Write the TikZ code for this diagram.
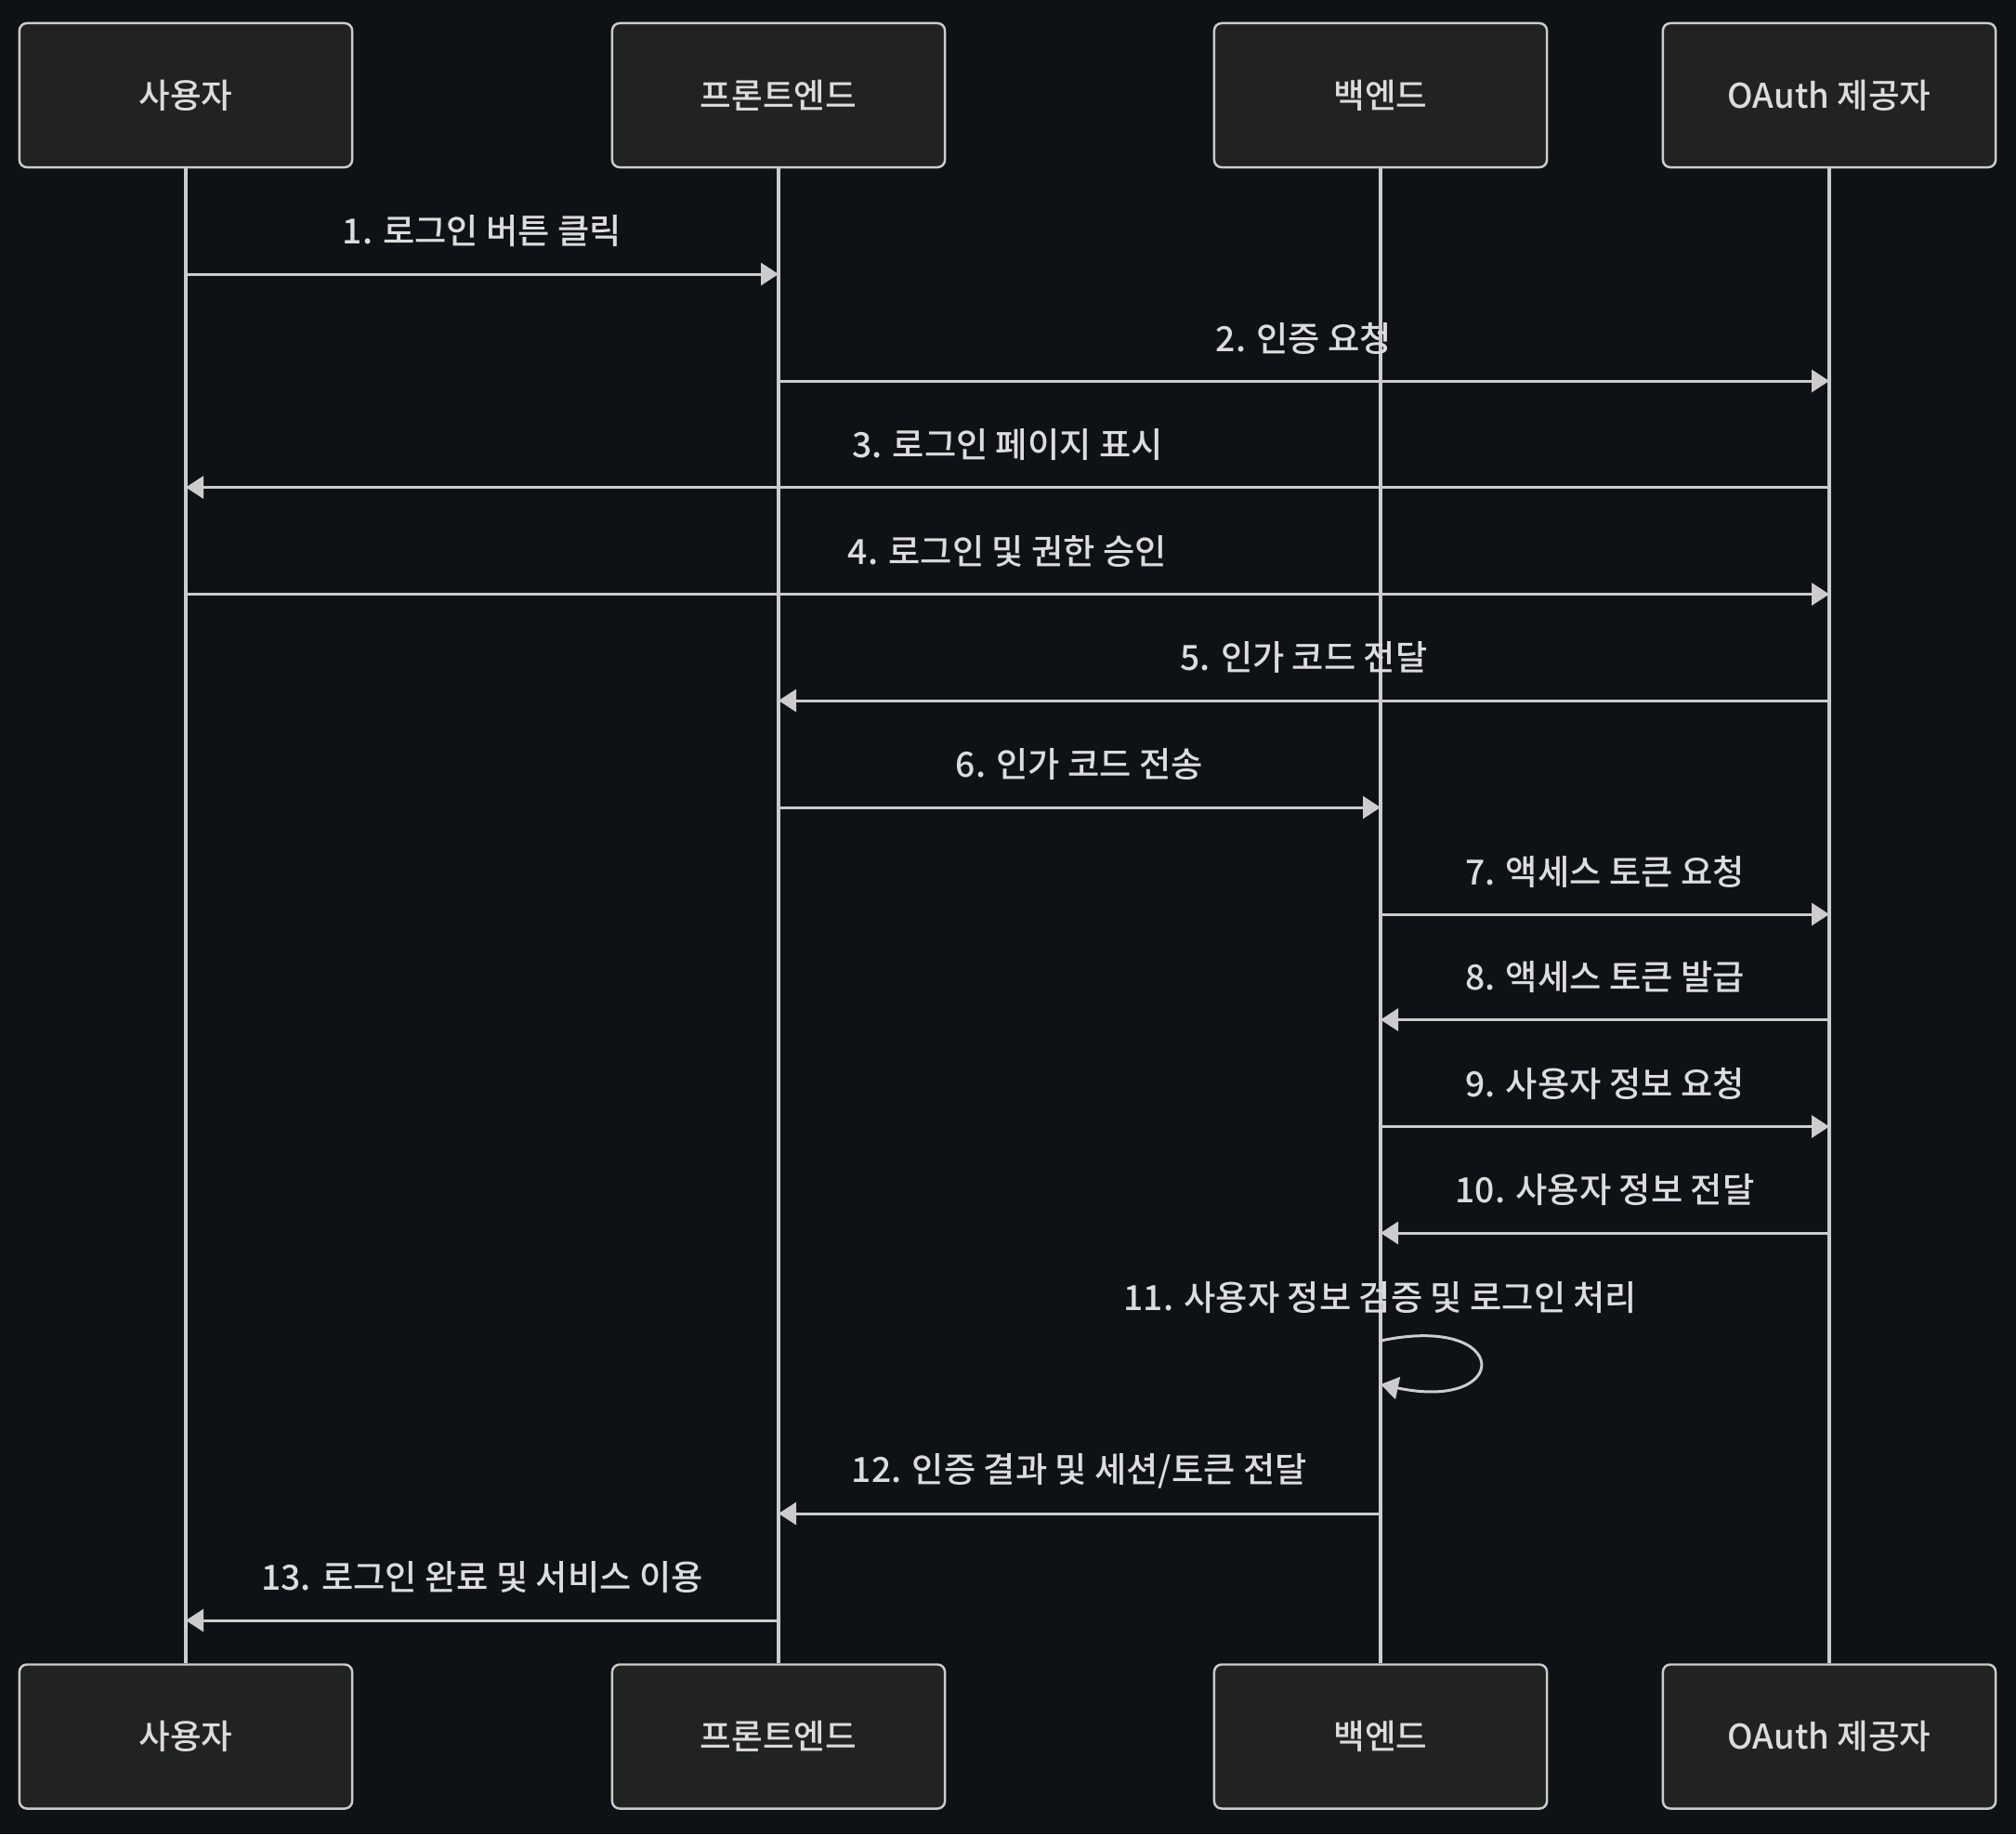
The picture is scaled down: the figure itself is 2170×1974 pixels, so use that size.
\documentclass[tikz,border=0pt]{standalone}
\usepackage{fontspec}
\setmainfont{Noto Sans CJK KR}[UprightFont=* Medium]
\usetikzlibrary{positioning, arrows.meta}

\definecolor{bgdark}{HTML}{0E1116}
\definecolor{boxfill}{HTML}{212222}
\definecolor{linegray}{HTML}{CCCCCC}
\definecolor{textgray}{HTML}{DCDCDC}

\begin{document}
\begin{tikzpicture}[
        x=0.01cm, y=-0.01cm,
        actor/.style={rectangle, draw=linegray, fill=boxfill, rounded corners=0.08cm, line width=0.7pt, minimum width=3.58cm, minimum height=1.55cm, text=textgray, font=\fontsize{10.4}{12}\selectfont},
        life/.style={draw=linegray, line width=1pt},
        msg/.style={draw=linegray, line width=0.85pt, -{Triangle[length=0.19cm, width=0.24cm]}},
        lbl/.style={text=textgray, font=\fontsize{10.6}{12}\selectfont, inner sep=0pt, yshift=0.46cm}
    ]
        % background and page size
        \fill[bgdark] (0,0) rectangle (2170,1974);

        % Participants (top)
        \node[actor] (user) at (200,102.5) {사용자};
        \node[actor] (front) at (838,102.5) {프론트엔드};
        \node[actor] (back) at (1486,102.5) {백엔드};
        \node[actor] (oauth) at (1969,102.5) {OAuth 제공자};

        % Participants (bottom)
        \node[actor, below=16.08cm of user] (userB) {사용자};
        \node[actor, below=16.08cm of front] (frontB) {프론트엔드};
        \node[actor, below=16.08cm of back] (backB) {백엔드};
        \node[actor, below=16.08cm of oauth] (oauthB) {OAuth 제공자};

        % Lifelines
        \draw[life] (user) -- (userB);
        \draw[life] (front) -- (frontB);
        \draw[life] (back) -- (backB);
        \draw[life] (oauth) -- (oauthB);

        % Message rows
        \foreach \i/\y in {1/295, 2/410, 3/524.5, 4/639.5, 5/754, 6/869, 7/984, 8/1097.5, 9/1212.5, 10/1327, 11/1443, 11b/1490, 12/1629, 13/1744}
            \coordinate (r\i) at (0,\y);

        % Messages
        \draw[msg] (user |- r1) -- node[lbl] {1. 로그인 버튼 클릭} (front |- r1);
        \draw[msg] (front |- r2) -- node[lbl] {2. 인증 요청} (oauth |- r2);
        \draw[msg] (oauth |- r3) -- node[lbl] {3. 로그인 페이지 표시} (user |- r3);
        \draw[msg] (user |- r4) -- node[lbl] {4. 로그인 및 권한 승인} (oauth |- r4);
        \draw[msg] (oauth |- r5) -- node[lbl] {5. 인가 코드 전달} (front |- r5);
        \draw[msg] (front |- r6) -- node[lbl] {6. 인가 코드 전송} (back |- r6);
        \draw[msg] (back |- r7) -- node[lbl] {7. 액세스 토큰 요청} (oauth |- r7);
        \draw[msg] (oauth |- r8) -- node[lbl] {8. 액세스 토큰 발급} (back |- r8);
        \draw[msg] (back |- r9) -- node[lbl] {9. 사용자 정보 요청} (oauth |- r9);
        \draw[msg] (oauth |- r10) -- node[lbl] {10. 사용자 정보 전달} (back |- r10);
        \draw[msg] (back |- r11) .. controls +(142,-30) and +(142,30) .. node[lbl, at start] {11. 사용자 정보 검증 및 로그인 처리} (back |- r11b);
        \draw[msg] (back |- r12) -- node[lbl] {12. 인증 결과 및 세션/토큰 전달} (front |- r12);
        \draw[msg] (front |- r13) -- node[lbl] {13. 로그인 완료 및 서비스 이용} (user |- r13);
    \end{tikzpicture}
\end{document}
